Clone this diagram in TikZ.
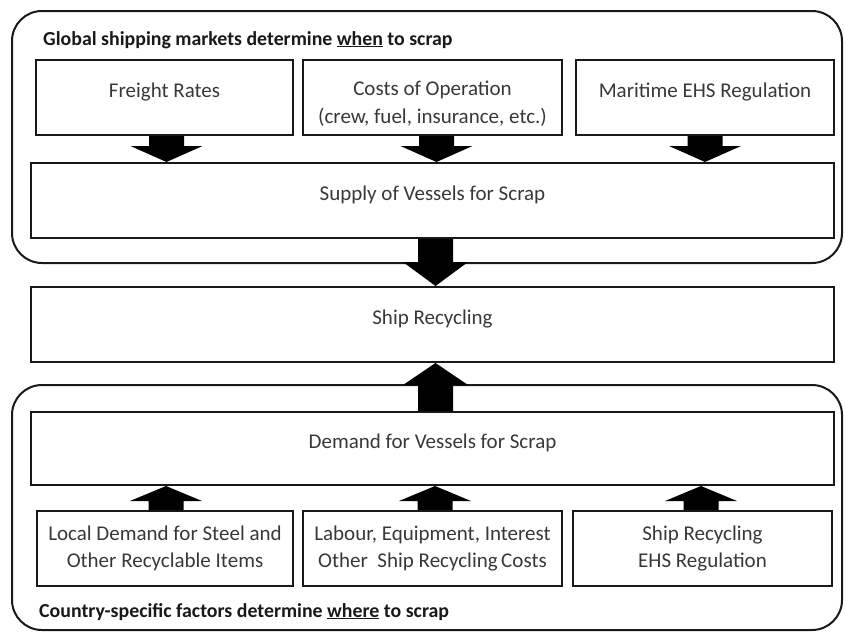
\documentclass[tikz,border=0pt]{standalone}
\usepackage{fontspec}
\setmainfont{Carlito}
\usetikzlibrary{calc}
\newcommand\blkdown[6]{%
  \fill let \p1=([xshift=#3]#1.south), \p2=(#2.north) in
    (\x1-#4,\y1) -- (\x1+#4,\y1) -- (\x1+#4,\y2+#6) -- (\x1+#5,\y2+#6) --
    (\x1,\y2) -- (\x1-#5,\y2+#6) -- (\x1-#4,\y2+#6) -- cycle;}
\newcommand\blkup[6]{%
  \fill let \p1=([xshift=#3]#1.north), \p2=(#2.south) in
    (\x1-#4,\y1) -- (\x1+#4,\y1) -- (\x1+#4,\y2-#6) -- (\x1+#5,\y2-#6) --
    (\x1,\y2) -- (\x1-#5,\y2-#6) -- (\x1-#4,\y2-#6) -- cycle;}
\begin{document}
\begin{tikzpicture}[x=1pt,y=-1pt,
  box/.style={draw=black!90,line width=2pt,inner sep=0pt,align=center,
    text=black!78,font=\fontsize{21}{27.5}\selectfont,minimum height=75pt},
  oneline/.style={text height=15pt,text depth=16pt},
  outer/.style={draw=black!90,line width=2pt,rounded corners=30pt,inner sep=0pt},
  title/.style={anchor=base west,inner sep=0pt,font=\fontsize{19.85}{24}\selectfont\bfseries,text=black!90}]
\useasboundingbox (0,0) rectangle (845,632);
% outer frames
\node[outer,minimum width=830pt,minimum height=252pt] (topframe) at (427,137) {};
\node[outer,minimum width=830pt,minimum height=245pt] (botframe) at (427,507.5) {};
% titles
\node[title] (ttop) at (43,45) {Global shipping markets determine \underline{when} to scrap};
\node[title] (tbot) at (39,617) {Country-specific factors determine \underline{where} to scrap};
% top row
\node[box,oneline,minimum width=257pt] (fr) at (164.5,97.5) {Freight Rates};
\node[box,minimum width=259pt] (co) at (432.5,97.5) {\rule{0pt}{27pt}Costs of Operation\\(crew, fuel, insurance, etc.)};
\node[box,oneline,minimum width=258pt] (ma) at (705,97.5) {Maritime EHS Regulation};
% wide boxes
\node[box,oneline,minimum width=803pt] (su) at (432.5,200.5) {Supply of Vessels for Scrap};
\node[box,oneline,minimum width=803pt] (sr) at (432.5,324.5) {Ship Recycling};
\node[box,oneline,minimum width=803pt,minimum height=73pt] (de) at (432.5,448.5) {Demand for Vessels for Scrap};
% bottom row
\node[box,minimum width=256pt] (lo) at (165,548.5) {Local Demand for Steel and\\Other Recyclable Items};
\node[box,minimum width=259pt] (la) at (432.5,548.5) {Labour, Equipment, Interest\\Other\ \ Ship Recycling\,Costs};
\node[box,minimum width=259pt] (eh) at (702.5,548.5) {Ship Recycling\\EHS Regulation};
% block arrows
\blkdown{fr}{su}{2pt}{17.5pt}{36pt}{16pt}
\blkdown{co}{su}{4pt}{17.5pt}{36pt}{16pt}
\blkdown{ma}{su}{0pt}{17.5pt}{36pt}{16pt}
\blkdown{su}{sr}{3pt}{17.5pt}{32.5pt}{24pt}
\blkup{de}{sr}{3pt}{17.5pt}{32.5pt}{22pt}
\blkup{lo}{de}{1pt}{17.5pt}{36pt}{15pt}
\blkup{la}{de}{2.5pt}{17.5pt}{36pt}{15pt}
\blkup{eh}{de}{-1.5pt}{17.5pt}{36pt}{15pt}
\end{tikzpicture}
\end{document}
